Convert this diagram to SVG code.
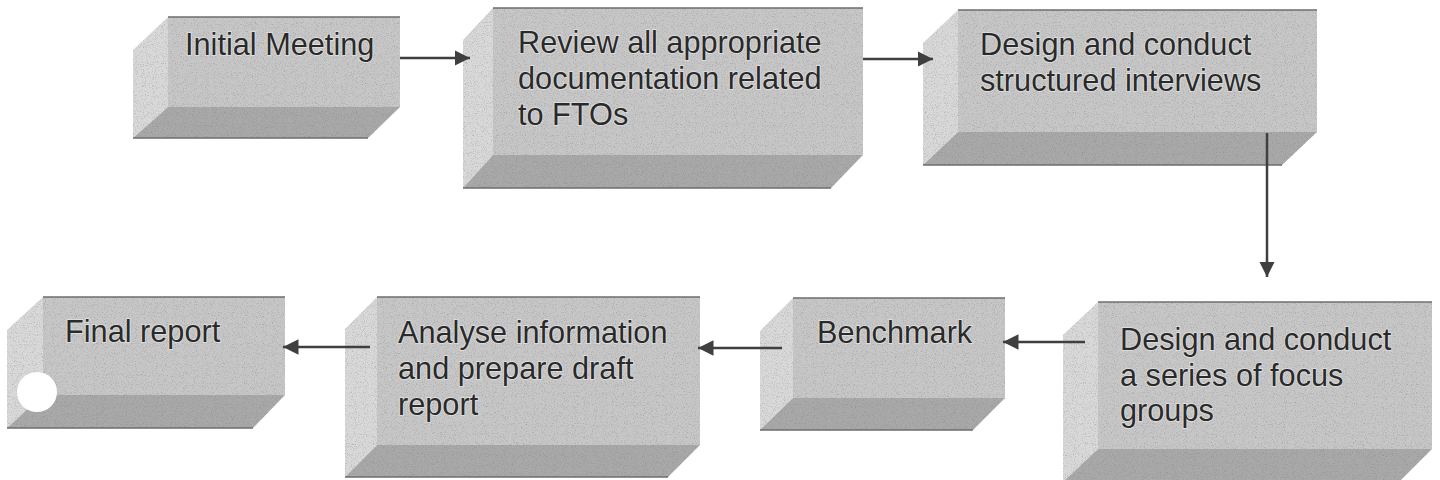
<svg xmlns="http://www.w3.org/2000/svg" width="1440" height="480" viewBox="0 0 1440 480">
  <defs>
    <style>
      .front { fill: #c7c7c7; }
      .side { fill: #d9d9d9; }
      .bottom { fill: #a9a9a9; }
      .edge { fill: none; stroke: #6e6e6e; stroke-width: 1.5; }
      .label { font-family: "Liberation Sans", Arial, sans-serif; font-size: 30.7px; fill: #2a2a2a; stroke: #f2f2f2; stroke-width: 1.6; stroke-opacity: 0.7; paint-order: stroke; }
      .conn { stroke: #3f3f3f; stroke-width: 2.5; fill: none; }
      .box { filter: url(#grain); }
    </style>
    <filter id="grain" x="0" y="0" width="100%" height="100%">
      <feTurbulence type="fractalNoise" baseFrequency="0.9" numOctaves="2" seed="7" result="n"/>
      <feColorMatrix in="n" type="matrix" values="0 0 0 0 0.2  0 0 0 0 0.2  0 0 0 0 0.2  1.5 0 0 0 -0.75" result="speck"/>
      <feComposite in="speck" in2="SourceGraphic" operator="in" result="speckIn"/>
      <feMerge>
        <feMergeNode in="SourceGraphic"/>
        <feMergeNode in="speckIn"/>
      </feMerge>
    </filter>
    <marker id="arrow" viewBox="0 0 10 10" refX="10" refY="5" markerWidth="6.2" markerHeight="6.6" markerUnits="strokeWidth" orient="auto">
      <path d="M0,0 L10,5 L0,10 z" fill="#3f3f3f"/>
    </marker>
  </defs>

  <rect width="1440" height="480" fill="#ffffff"/>

  <!-- Initial Meeting -->
  <g id="node-initial-meeting">
    <g class="box">
      <rect class="front" x="168" y="17" width="232" height="90"/>
      <polygon class="side" points="133,50 168,17 168,107 133,138"/>
      <polygon class="bottom" points="168,107 400,107 368,138 133,138"/>
    </g>
    <path class="edge" d="M168,17 H400 M133,138 H368"/>
    <text class="label" x="185" y="55">Initial Meeting</text>
  </g>

  <!-- Review documentation -->
  <g id="node-review">
    <g class="box">
      <rect class="front" x="493" y="8" width="370" height="147"/>
      <polygon class="side" points="463,40 493,8 493,155 463,188"/>
      <polygon class="bottom" points="493,155 863,155 831,188 463,188"/>
    </g>
    <path class="edge" d="M493,8 H863 M463,188 H831"/>
    <text class="label">
      <tspan x="518" y="53">Review all appropriate</tspan>
      <tspan x="518" y="89">documentation related</tspan>
      <tspan x="518" y="125">to FTOs</tspan>
    </text>
  </g>

  <!-- Structured interviews -->
  <g id="node-interviews">
    <g class="box">
      <rect class="front" x="958" y="10" width="359" height="122"/>
      <polygon class="side" points="923,43 958,10 958,132 923,165"/>
      <polygon class="bottom" points="958,132 1317,132 1282,165 923,165"/>
    </g>
    <path class="edge" d="M958,10 H1317 M923,165 H1282"/>
    <text class="label">
      <tspan x="980" y="55">Design and conduct</tspan>
      <tspan x="980" y="91">structured interviews</tspan>
    </text>
  </g>

  <!-- Focus groups -->
  <g id="node-focus-groups">
    <g class="box">
      <rect class="front" x="1098" y="302" width="334" height="147"/>
      <polygon class="side" points="1063,335 1098,302 1098,449 1063,482"/>
      <polygon class="bottom" points="1098,449 1432,449 1399,482 1063,482"/>
    </g>
    <path class="edge" d="M1098,302 H1432"/>
    <text class="label">
      <tspan x="1120" y="350">Design and conduct</tspan>
      <tspan x="1120" y="386">a series of focus</tspan>
      <tspan x="1120" y="421">groups</tspan>
    </text>
  </g>

  <!-- Benchmark -->
  <g id="node-benchmark">
    <g class="box">
      <rect class="front" x="793" y="298" width="212" height="100"/>
      <polygon class="side" points="760,331 793,298 793,398 760,430"/>
      <polygon class="bottom" points="793,398 1005,398 973,430 760,430"/>
    </g>
    <path class="edge" d="M793,298 H1005 M760,430 H973"/>
    <text class="label" x="817" y="343">Benchmark</text>
  </g>

  <!-- Analyse information -->
  <g id="node-analyse">
    <g class="box">
      <rect class="front" x="377" y="297" width="323" height="148"/>
      <polygon class="side" points="345,329 377,297 377,445 345,477"/>
      <polygon class="bottom" points="377,445 700,445 668,477 345,477"/>
    </g>
    <path class="edge" d="M377,297 H700 M345,477 H668"/>
    <text class="label">
      <tspan x="398" y="343">Analyse information</tspan>
      <tspan x="398" y="379">and prepare draft</tspan>
      <tspan x="398" y="415">report</tspan>
    </text>
  </g>

  <!-- Final report -->
  <g id="node-final-report">
    <g class="box">
      <rect class="front" x="43" y="297" width="242" height="98"/>
      <polygon class="side" points="7,330 43,297 43,395 7,428"/>
      <polygon class="bottom" points="43,395 285,395 253,428 7,428"/>
    </g>
    <path class="edge" d="M43,297 H285 M7,428 H253"/>
    <circle cx="37" cy="392" r="20" fill="#ffffff"/>
    <text class="label" x="65" y="342">Final report</text>
  </g>

  <!-- Connectors -->
  <g id="connectors">
    <line class="conn" x1="400" y1="58" x2="470" y2="58" marker-end="url(#arrow)"/>
    <line class="conn" x1="863" y1="59" x2="933" y2="59" marker-end="url(#arrow)"/>
    <line class="conn" x1="1267" y1="133" x2="1267" y2="277" marker-end="url(#arrow)"/>
    <line class="conn" x1="1085" y1="342" x2="1003" y2="342" marker-end="url(#arrow)"/>
    <line class="conn" x1="782" y1="348" x2="698" y2="348" marker-end="url(#arrow)"/>
    <line class="conn" x1="370" y1="347" x2="283" y2="347" marker-end="url(#arrow)"/>
  </g>
</svg>
